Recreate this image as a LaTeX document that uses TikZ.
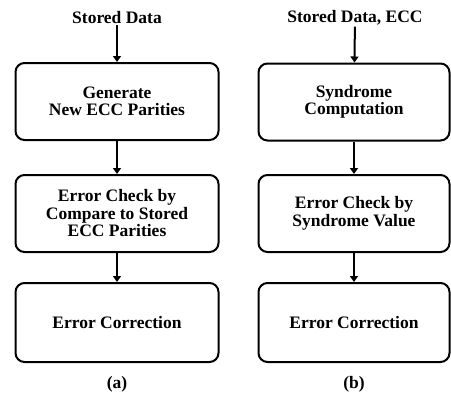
\documentclass[tikz,border=0pt]{standalone}
\usepackage{fontspec}
\setmainfont{Liberation Serif}
\usetikzlibrary{arrows.meta, positioning}

\begin{document}
\begin{tikzpicture}[x=1pt, y=-1pt,
    flowbox/.style={draw, line width=2pt, rounded corners=9pt, minimum height=77pt,
        align=center, inner sep=0pt, font=\bfseries\fontsize{17.5}{17.5}\selectfont},
    lbl/.style={font=\bfseries\fontsize{17.5}{17.5}\selectfont, inner sep=1pt},
    flow/.style={line width=2pt, -{Triangle[length=6pt,width=8pt]}}]
    \useasboundingbox (0,0) rectangle (451,399);

    % (a) new parities compared to stored ones
    \node[lbl] at (117,18) (inA) {Stored Data};
    \node[flowbox, minimum width=203pt] at (117,101.5) (genA) {Generate\\New ECC Parities};
    \node[flowbox, minimum width=203pt] at (117,213.5) (chkA) {Error Check by\\Compare to Stored\\ECC Parities};
    \node[flowbox, minimum width=203pt, minimum height=79pt] at (117,322.5) (corA) {Error Correction};
    \node[lbl] at (117,384) (capA) {(a)};

    \draw[flow] (inA) -- (genA);
    \draw[flow] (genA) -- (chkA);
    \draw[flow] (chkA) -- (corA);

    % (b) syndrome based
    \node[lbl] at (355,18) (inB) {Stored Data, ECC};
    \node[flowbox, minimum width=191pt] at (354,102) (synB) {Syndrome\\Computation};
    \node[flowbox, minimum width=191pt] at (354,213.5) (chkB) {Error Check by\\Syndrome Value};
    \node[flowbox, minimum width=191pt, minimum height=79pt] at (354,322.5) (corB) {Error Correction};
    \node[lbl] at (354,384) (capB) {(b)};

    \draw[flow] (inB) -- (synB);
    \draw[flow] (synB) -- (chkB);
    \draw[flow] (chkB) -- (corB);
\end{tikzpicture}
\end{document}
